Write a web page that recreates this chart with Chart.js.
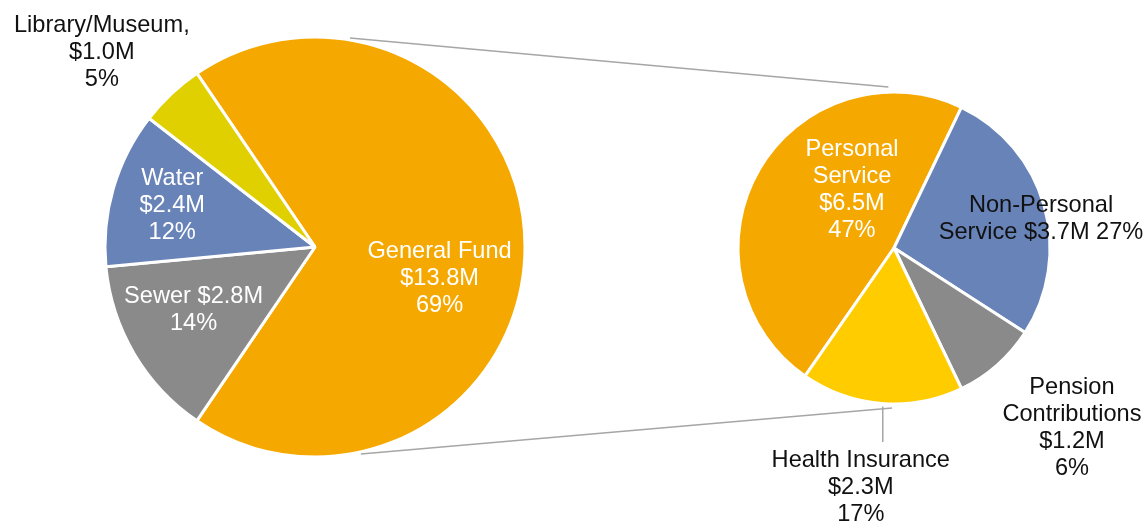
<!DOCTYPE html>
<html>
<head>
<meta charset="utf-8">
<script src="https://cdn.jsdelivr.net/npm/chart.js@4"></script>
<style>
    html, body { margin: 0; padding: 0; background: #fff; }
    #wrap { position: relative; width: 1148px; height: 522px; }
    #wrap canvas { position: absolute; left: 0; top: 0; }
</style>
</head>
<body>
<div id="wrap">
    <canvas id="fundChart" width="1148" height="522"></canvas>
    <canvas id="gfChart" width="1148" height="522"></canvas>
</div>
<script>
// Budget by fund (left pie), $M
const fundNames = ['General Fund', 'Sewer', 'Water', 'Library/Museum,'];
const fundValues = [13.8, 2.8, 2.4, 1.0];
const fundPct = [69, 14, 12, 5];
const fundColors = ['#F5A800', '#8A8A8A', '#6883B8', '#E0D000'];

// General Fund breakdown (right pie), $M
const gfNames = ['Personal|Service', 'Non-Personal|Service', 'Pension|Contributions', 'Health Insurance'];
const gfValues = [6.5, 3.7, 1.2, 2.3];
const gfPct = [47, 27, 6, 17];
const gfColors = ['#F5A800', '#6883B8', '#8A8A8A', '#FFCC00'];

const W = 1148, H = 522;
const BORDER = 3;
const FONT = '23.6px "Liberation Sans", Arial, sans-serif';
const LINE_H = 27;
const TEXT_DY = 2;

// where each pie sits on the page
const fundPie = { cx: 315, cy: 247, r: 210, rotation: -34.2 };
const gfPie = { cx: 894, cy: 248, r: 156, rotation: 214.8 };

// label placement relative to slice middle (da = degrees offset, r = radius factor)
const fundLabelPos = [
    { fmt: '{n}|{v}|{p}', da: 13.5, r: 0.61, color: '#fff' },
    { fmt: '{n} {v}|{p}', da: 4.1, r: 0.646, color: '#fff' },
    { fmt: '{n}|{v}|{p}', da: 0.8, r: 0.711, color: '#fff' },
    { fmt: '{n}|{v}|{p}', da: -4.2, r: 1.379, color: '#111' }
];
const gfLabelPos = [
    { fmt: '{n}|{v}|{p}', da: 25, r: 0.472, color: '#fff' },
    { fmt: '{n} {v} {p}', da: 3.7, r: 0.964, color: '#111' },
    { fmt: '{n}|{v}|{p}', da: -3.6, r: 1.613, color: '#111' },
    { fmt: '{n}|{v}|{p}', da: 3.4, r: 1.534, color: '#111', leader: 22 }
];

function padFor(pie) {
    const half = pie.r + BORDER / 2;
    return {
        left: pie.cx - half,
        top: pie.cy - half,
        right: W - (pie.cx + half),
        bottom: H - (pie.cy + half)
    };
}

function labelLines(fmt, name, value, pct) {
    return fmt.replace('{n}', name)
        .replace('{v}', '$' + value.toFixed(1) + 'M')
        .replace('{p}', pct + '%')
        .split('|');
}

// Draw data labels for each slice
const sliceLabels = {
    id: 'sliceLabels',
    afterDatasetsDraw(chart, args, opts) {
        const ctx = chart.ctx;
        const arcs = chart.getDatasetMeta(0).data;
        ctx.save();
        ctx.font = FONT;
        ctx.textAlign = 'center';
        ctx.textBaseline = 'middle';
        arcs.forEach((arc, i) => {
            const pos = opts.pos[i];
            const mid = (arc.startAngle + arc.endAngle) / 2 + pos.da * Math.PI / 180;
            const x = arc.x + Math.cos(mid) * arc.outerRadius * pos.r;
            const y = arc.y + Math.sin(mid) * arc.outerRadius * pos.r;
            const lines = labelLines(pos.fmt, opts.names[i], opts.values[i], opts.pct[i]);
            const top = y - (lines.length - 1) / 2 * LINE_H;

            if (pos.leader) {
                // vertical leader line from label up to the pie edge
                const lx = x + pos.leader;
                const ey = arc.y + Math.sqrt(Math.max(arc.outerRadius ** 2 - (lx - arc.x) ** 2, 0));
                ctx.strokeStyle = '#A6A6A6';
                ctx.lineWidth = 1.5;
                ctx.beginPath();
                ctx.moveTo(lx, top - 16);
                ctx.lineTo(lx, ey + 3);
                ctx.stroke();
            }

            ctx.fillStyle = pos.color;
            lines.forEach((line, k) => ctx.fillText(line, x, top + k * LINE_H + TEXT_DY));
        });
        ctx.restore();
    }
};

let fundChart = null;

// Lines joining the General Fund slice to the breakdown pie
const connectors = {
    id: 'connectors',
    beforeDatasetsDraw(chart) {
        if (!fundChart) return;
        const a = fundChart.getDatasetMeta(0).data[0];
        const b = chart.getDatasetMeta(0).data[0];
        const deg = Math.PI / 180;
        const pairs = [
            [-80.5, -92, 5],
            [77.5, 90.7, 4]
        ];
        const ctx = chart.ctx;
        ctx.save();
        ctx.strokeStyle = '#A6A6A6';
        ctx.lineWidth = 1.5;
        pairs.forEach(([angA, angB, extra]) => {
            ctx.beginPath();
            ctx.moveTo(a.x + Math.cos(angA * deg) * (a.outerRadius + 2), a.y + Math.sin(angA * deg) * (a.outerRadius + 2));
            ctx.lineTo(b.x + Math.cos(angB * deg) * (b.outerRadius + extra), b.y + Math.sin(angB * deg) * (b.outerRadius + extra));
            ctx.stroke();
        });
        ctx.restore();
    }
};

function pieOptions(pie, labelOpts) {
    return {
        responsive: false,
        animation: false,
        rotation: pie.rotation,
        layout: { padding: padFor(pie) },
        events: [],
        plugins: {
            legend: { display: false },
            tooltip: { enabled: false },
            sliceLabels: labelOpts
        }
    };
}

fundChart = new Chart(document.getElementById('fundChart'), {
    type: 'pie',
    data: {
        labels: fundNames,
        datasets: [{
            data: fundValues,
            backgroundColor: fundColors,
            borderColor: '#fff',
            borderWidth: BORDER
        }]
    },
    options: pieOptions(fundPie, { names: fundNames, values: fundValues, pct: fundPct, pos: fundLabelPos }),
    plugins: [sliceLabels]
});

const gfChart = new Chart(document.getElementById('gfChart'), {
    type: 'pie',
    data: {
        labels: gfNames,
        datasets: [{
            data: gfValues,
            backgroundColor: gfColors,
            borderColor: '#fff',
            borderWidth: BORDER
        }]
    },
    options: pieOptions(gfPie, { names: gfNames, values: gfValues, pct: gfPct, pos: gfLabelPos }),
    plugins: [connectors, sliceLabels]
});
</script>
</body>
</html>
